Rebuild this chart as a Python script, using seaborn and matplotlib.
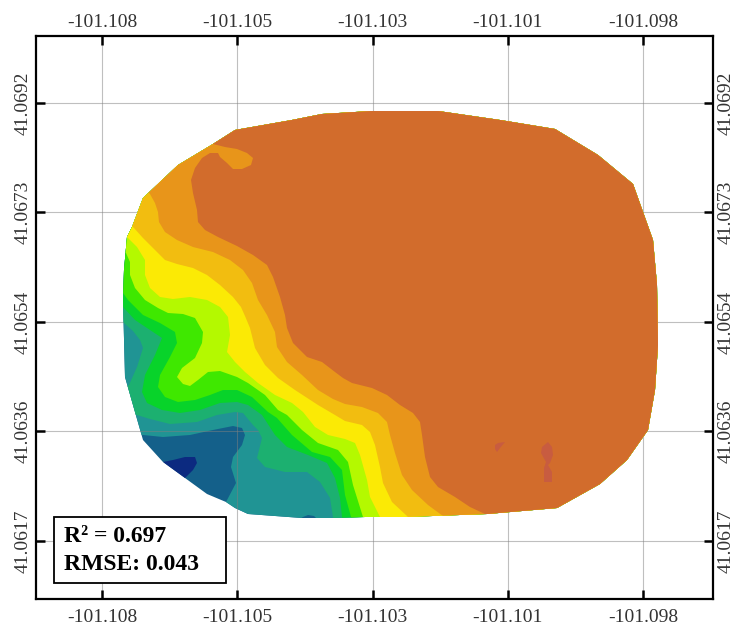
import matplotlib
matplotlib.use("Agg")
import matplotlib.pyplot as plt
from matplotlib.patches import Polygon, Rectangle
from matplotlib.transforms import ScaledTranslation
import numpy as np
import seaborn as sns

# tick values and labels
lon_ticks = [-101.1078, -101.1054, -101.1030, -101.1006, -101.0982]
lon_labels = ["-101.108", "-101.105", "-101.103", "-101.101", "-101.098"]
lat_ticks = [41.0692, 41.06733, 41.06545, 41.06358, 41.0617]
lat_labels = ["41.0692", "41.0673", "41.0654", "41.0636", "41.0617"]

# band colours, low to high
band_colors = ["#14608A", "#209494", "#1CB070", "#08D32A", "#3FE800", "#B4F900",
               "#FBEA05", "#F2BD10", "#E8951A", "#D26C2C"]
navy = "#0C2A80"
red = "#C85C40"

field_outline = [(235,130),(292,120),(322,114),(372,111),(438,111),(500,120),(555,129),(598,155),
                 (633,184),(653,240),(657,285),(658,345),(655,390),(648,430),(627,460),(600,484),
                 (557,508),(487,514),(405,517),(365,517),(330,518),(302,518),(248,514),(235,508),
                 (226,502),(207,494),(185,478),(163,462),(143,440),(125,377),(123,300),(124,270),
                 (127,237),(132,227),(143,198),(178,165),(213,144)]

# contour lines, each one has the higher values on its upper right side
teal_line = [(100,432),(143,435),(163,437),(190,435),(213,430),(233,426),(242,428),(245,435),
             (242,445),(233,457),(231,467),(236,483),(226,502),(220,530)]
greenteal_line = [(110,320),(124,323),(133,331),(140,340),(143,348),(137,367),(129,385),(117,392),
                  (117,414),(137,415),(150,419),(170,424),(197,422),(217,415),(235,412),(243,413),
                  (253,425),(258,430),(262,438),(257,458),(265,467),(285,472),(307,472),(320,482),
                  (330,498),(333,517),(334,530)]
green_line = [(110,302),(123,307),(135,320),(150,330),(162,338),(155,355),(145,375),(142,392),
              (147,403),(162,410),(180,413),(200,410),(220,403),(237,402),(248,405),(262,415),
              (275,435),(287,447),(308,455),(327,463),(335,478),(340,498),(342,517),(343,530)]
bright_line = [(110,288),(123,293),(128,300),(143,315),(160,323),(175,332),(177,343),(170,357),
               (160,375),(158,387),(165,397),(178,402),(195,400),(210,395),(223,390),(237,390),
               (252,397),(268,412),(277,418),(292,435),(312,452),(330,457),(342,470),(345,495),
               (351,517),(352,530)]
lime_line = [(115,250),(126,253),(130,262),(130,275),(135,288),(145,300),(158,308),(168,313),
             (183,314),(195,318),(203,332),(202,343),(195,358),(182,368),(177,377),(183,384),
             (190,386),(198,380),(208,372),(220,371),(237,377),(248,383),(265,395),(278,410),
             (287,415),(302,430),(318,443),(338,450),(348,462),(353,485),(363,517),(365,530)]
yellow_line = [(120,232),(128,238),(137,247),(145,260),(145,275),(150,288),(160,297),(173,299),
               (190,297),(207,300),(220,307),(228,317),(230,335),(227,352),(235,362),(245,372),
               (258,383),(275,395),(292,403),(303,412),(315,427),(328,435),(345,439),(355,443),
               (360,455),(367,480),(370,497),(380,517),(386,530)]
gold_line = [(122,218),(134,228),(143,238),(155,250),(165,260),(177,264),(193,268),(207,275),
             (220,285),(233,297),(241,307),(245,316),(250,328),(255,348),(265,365),(278,378),
             (295,390),(318,405),(335,415),(345,421),(362,425),(370,432),(375,445),(380,467),
             (383,483),(392,502),(407,516),(420,530)]
orange_line = [(138,182),(150,194),(155,203),(158,212),(159,222),(165,232),(177,240),(193,247),
               (213,252),(230,260),(243,270),(252,283),(258,300),(267,315),(275,332),(277,347),
               (287,362),(302,375),(318,390),(333,399),(345,404),(362,407),(378,413),(387,422),
               (390,435),(395,453),(402,475),(412,490),(428,505),(443,516),(460,530)]
brown_line = [(205,132),(213,144),(225,147),(237,149),(247,153),(253,158),(251,165),(242,169),
              (233,169),(227,163),(220,157),(218,153),(210,153),(202,158),(195,168),(191,180),
              (193,193),(197,210),(198,222),(205,230),(218,237),(237,246),(253,255),(267,265),
              (273,277),(280,297),(285,315),(287,328),(293,343),(307,357),(322,362),(335,372),
              (343,378),(352,383),(372,388),(387,395),(400,405),(413,413),(420,422),(422,435),
              (425,457),(430,477),(438,487),(455,497),(470,507),(485,514),(495,530)]

navy_patch = [(163,462),(173,460),(185,457),(195,457),(197,463),(193,470),(185,478),(175,478)]
blue_patch = [(298,520),(303,517),(308,515),(314,516),(318,520)]
red_patch_a = [(495,445),(498,443),(505,442),(500,448),(497,452),(495,449)]
red_patch_b = [(542,447),(548,442),(552,447),(553,455),(550,463),(548,465),(552,472),(552,482),
               (544,482),(544,468),(546,462),(541,453)]

band_lines = [teal_line, greenteal_line, green_line, bright_line, lime_line,
              yellow_line, gold_line, orange_line, brown_line]


def to_lonlat(points):
    pts = np.array(points, dtype=float)
    lon = lon_ticks[0] + (pts[:, 0] - 102) * 0.0024 / 135.25
    lat = lat_ticks[0] - (pts[:, 1] - 103) * 0.001875 / 109.5
    return np.column_stack([lon, lat])


sns.set_theme(style="white")
plt.rcParams['font.family'] = ['Liberation Serif', 'DejaVu Serif']
palette = sns.color_palette(band_colors)

fig = plt.figure(figsize=(7.34, 6.26), dpi=100)
ax = fig.add_axes([36 / 734, 1 - 599 / 626, 677 / 734, 563 / 626])

outline = Polygon(to_lonlat(field_outline), closed=True, fc=palette[0], ec='none', zorder=1)
ax.add_patch(outline)

# paint from low to high, each band covers what is above its contour line
for i, line in enumerate(band_lines):
    start = line[0]
    end = line[-1]
    wrap = line + [(720, end[1]), (720, 90), (start[0], 90)]
    p = Polygon(to_lonlat(wrap), closed=True, fc=palette[i + 1], ec='none', zorder=2 + i)
    ax.add_patch(p)
    p.set_clip_path(outline)

for pts, col in [(navy_patch, navy), (blue_patch, band_colors[0]),
                 (red_patch_a, red), (red_patch_b, red)]:
    p = Polygon(to_lonlat(pts), closed=True, fc=col, ec='none', zorder=12)
    ax.add_patch(p)
    p.set_clip_path(outline)

ax.set_xlim(to_lonlat([(36, 599)])[0, 0], to_lonlat([(713, 599)])[0, 0])
ax.set_ylim(to_lonlat([(36, 599)])[0, 1], to_lonlat([(36, 36)])[0, 1])

ax.set_xticks(lon_ticks)
ax.set_xticklabels(lon_labels)
ax.set_yticks(lat_ticks)
ax.set_yticklabels(lat_labels, rotation=90, va='center')
ax.tick_params(axis='both', direction='in', length=6.5, width=1.8, color='black',
               labelsize=14, labelcolor='#333333', bottom=True, top=True, left=True,
               right=True, labelbottom=True, labeltop=True, labelleft=True, labelright=True)
ax.tick_params(axis='x', pad=7)
ax.tick_params(axis='y', pad=3)
for lab in ax.get_yticklabels(which='both'):
    lab.set_rotation(90)
    lab.set_va('center')
# top labels sit closer to the frame than the bottom ones
top_shift = ScaledTranslation(0, -4.5 / 100, fig.dpi_scale_trans)
for tick in ax.xaxis.get_major_ticks():
    tick.label2.set_transform(tick.label2.get_transform() + top_shift)
for tick in ax.yaxis.get_major_ticks():
    tick.label2.set_rotation(90)
    tick.label2.set_va('center')
ax.grid(True, color='#808080', alpha=0.5, lw=0.8, zorder=15)
ax.set_axisbelow(False)
for s in ax.spines.values():
    s.set_color('black')
    s.set_linewidth(1.6)
    s.set_zorder(20)

ax.add_patch(Rectangle((18 / 677, 16 / 563), 172 / 677, 66 / 563, transform=ax.transAxes,
                       fc='white', ec='black', lw=1.3, zorder=30))
ax.text(28 / 677, 63 / 563, "R² = 0.697", transform=ax.transAxes, fontsize=17,
        fontweight='bold', color='black', va='center', zorder=31)
ax.text(28 / 677, 34 / 563, "RMSE: 0.043", transform=ax.transAxes, fontsize=17,
        fontweight='bold', color='black', va='center', zorder=31)

fig.savefig("out.png", dpi=100)
